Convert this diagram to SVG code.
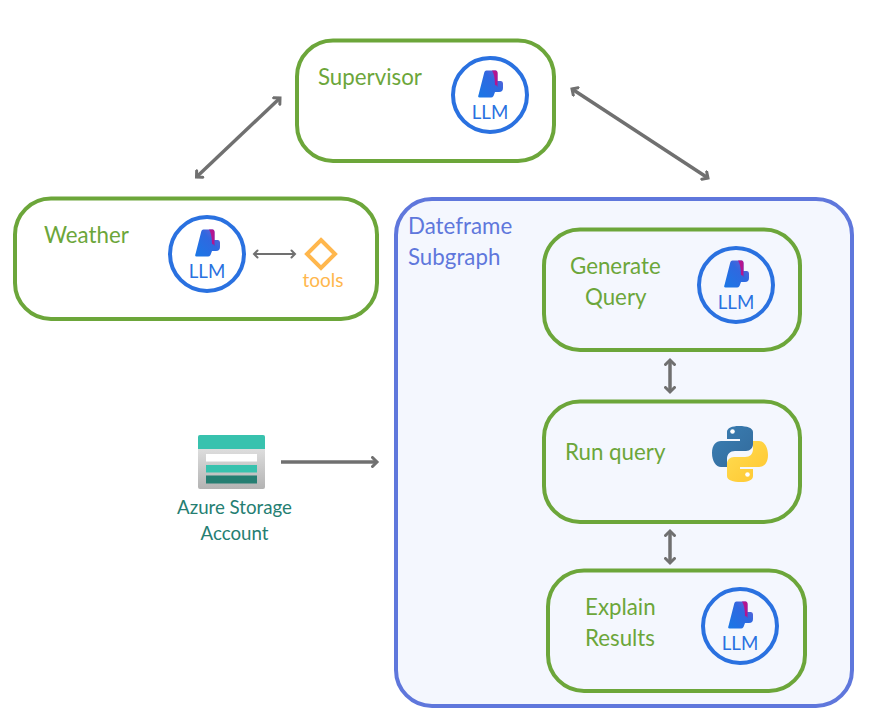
<svg xmlns="http://www.w3.org/2000/svg" width="888" height="721" viewBox="0 0 888 721">
<style>
text{font-family:Lato,"Open Sans","Liberation Sans",sans-serif}
.n{fill:#fff;stroke:#6ca63a;stroke-width:4}
.s{fill:#f4f7fe;stroke:#6ca63a;stroke-width:4}
.l{font-size:22.300px;fill:#6ca63a}
.c{fill:#fff;stroke:#2a71e0;stroke-width:4}
.d{fill:#f4f7fe;stroke:#2a71e0;stroke-width:4}
.t{font-size:18.700px;fill:#2a71e0;text-anchor:middle}
.a{fill:none;stroke:#707070;stroke-width:3.500;marker-start:url(#h);marker-end:url(#h)}
</style>
<defs>
<marker id="h" viewBox="-6 -6 12 12" refX="0" refY="0" markerWidth="12" markerHeight="12" markerUnits="userSpaceOnUse" orient="auto-start-reverse"><path d="M-4.500-4.500L0 0L-4.500 4.500" fill="none" stroke="#707070" stroke-width="3" stroke-linecap="round"/></marker>
<marker id="h2" viewBox="-6 -6 12 12" refX="0" refY="0" markerWidth="12" markerHeight="12" markerUnits="userSpaceOnUse" orient="auto-start-reverse"><path d="M-3.500-3.500L0 0L-3.500 3.500" fill="none" stroke="#707070" stroke-width="2" stroke-linecap="round"/></marker>
<linearGradient id="lg" x1="0" y1="1" x2="1" y2="0"><stop offset="0" stop-color="#1a78e6"/><stop offset=".6" stop-color="#2f68e0"/><stop offset="1" stop-color="#7a5fd0"/></linearGradient>
<linearGradient id="sg" x1="0" y1="0" x2="0" y2="1"><stop offset="0" stop-color="#ececec"/><stop offset="1" stop-color="#b3b3b3"/></linearGradient>
<linearGradient id="pb" x1="0" y1="0" x2="1" y2="1"><stop offset="0" stop-color="#3b7fb4"/><stop offset="1" stop-color="#326a9b"/></linearGradient>
<linearGradient id="py" x1="0" y1="0" x2="1" y2="1"><stop offset="0" stop-color="#ffdd52"/><stop offset="1" stop-color="#ffc62f"/></linearGradient>
<g id="logo">
<path d="M-3.500-24.500H5.500Q7.500-24.500 7.500-21.500V-14H11Q13-14 13-11.500V-7Q13-3 9-3H5L3.500 1Q2.500 2.500 1 2.500H-10.500Q-12.500 2.500-11.500 0L-6-21.500Q-5.500-24.500-3.500-24.500Z" fill="url(#lg)"/>
<path d="M2-24.500H5.500Q7.500-24.500 7.500-21.500V-8Q7-10 5-10Q5-20 2-24.500Z" fill="#b4148f"/>
</g>
</defs>
<g id="connectors">
<line class="a" x1="196.500" y1="177" x2="280" y2="98"/>
<line class="a" x1="572" y1="89" x2="708" y2="178"/>
<line x1="281" y1="462" x2="377" y2="462" stroke="#707070" stroke-width="3.500" marker-end="url(#h)"/>
</g>
<g id="subgraph"><rect x="396" y="199" width="456" height="507" rx="36" fill="#f4f7fe" stroke="#5f77dc" stroke-width="4"/>
<text x="408" y="233.500" font-size="22.300" fill="#5f77dc">Dateframe</text><text x="408" y="264.500" font-size="22.300" fill="#5f77dc">Subgraph</text></g>
<g id="connectors-inner">
<line class="a" x1="670" y1="360" x2="670" y2="392"/>
<line class="a" x1="670" y1="531" x2="670" y2="563"/>
</g>
<g id="supervisor"><rect class="n" x="297" y="40.500" width="257" height="120.500" rx="36"/><text class="l" x="318" y="84.500">Supervisor</text>
<circle class="c" cx="490" cy="95" r="37"/><use href="#logo" x="490" y="95"/><text class="t" x="490" y="119">LLM</text></g>
<g id="weather"><rect class="n" x="15" y="198.500" width="362" height="120.500" rx="36"/><text class="l" x="44" y="242.500">Weather</text>
<circle class="c" cx="207" cy="254" r="37"/><use href="#logo" x="207" y="254"/><text class="t" x="207" y="278">LLM</text></g>
<g id="tools"><path d="M321 240L335 254L321 268L307 254Z" fill="none" stroke="#ffb74d" stroke-width="4"/><text x="323" y="287" font-size="19" fill="#ffb74d" text-anchor="middle">tools</text></g>
<g id="connector-tools"><line x1="254" y1="254" x2="295" y2="254" stroke="#707070" stroke-width="2" marker-start="url(#h2)" marker-end="url(#h2)"/></g>
<g id="generate"><rect class="s" x="544" y="229.500" width="256" height="120.500" rx="36"/><text class="l" x="570" y="273.500">Generate</text><text class="l" x="585" y="304.500">Query</text>
<circle class="d" cx="736" cy="285" r="37"/><use href="#logo" x="736" y="285"/><text class="t" x="736" y="309">LLM</text></g>
<g id="run"><rect class="s" x="544" y="401.500" width="256" height="120.500" rx="36"/><text class="l" x="565" y="459.500">Run query</text>
<path d="M739 426C732 426 727 428 727 432V439H740V441H721C716 441 712 445 712 453C712 461 716 467 721 467H727V459C727 454 730 451 735 451H746C750 451 753 448 753 444V432C753 428 747 426 739 426Z" fill="url(#pb)"/><circle cx="732.500" cy="431.500" r="2.300" fill="#fff"/>
<path d="M741 482C748 482 753 480 753 476V469H740V467H759C764 467 768 463 768 455C768 447 764 441 759 441H753V449C753 454 750 457 745 457H734C730 457 727 460 727 464V476C727 480 733 482 741 482Z" fill="url(#py)"/><circle cx="747.500" cy="474.500" r="2.300" fill="#fff"/></g>
<g id="explain"><rect class="s" x="548" y="570.500" width="257" height="120.500" rx="36"/><text class="l" x="585" y="614.500">Explain</text><text class="l" x="585" y="645.500">Results</text>
<circle class="d" cx="740" cy="626" r="37"/><use href="#logo" x="740" y="626"/><text class="t" x="740" y="650">LLM</text></g>
<g id="storage"><rect x="198" y="435" width="67" height="54" rx="2" fill="url(#sg)"/><path d="M198 449V437Q198 435 200 435H263Q265 435 265 437V449Z" fill="#38c2ae"/>
<rect x="206" y="454" width="51" height="7.500" fill="#fff"/><rect x="206" y="465" width="51" height="7.500" fill="#38c2ae"/><rect x="206" y="475.500" width="51" height="8" fill="#257e72"/>
<text x="234.500" y="514" font-size="18.700" fill="#257e72" text-anchor="middle">Azure Storage</text><text x="234.500" y="540" font-size="18.700" fill="#257e72" text-anchor="middle">Account</text></g>
</svg>
